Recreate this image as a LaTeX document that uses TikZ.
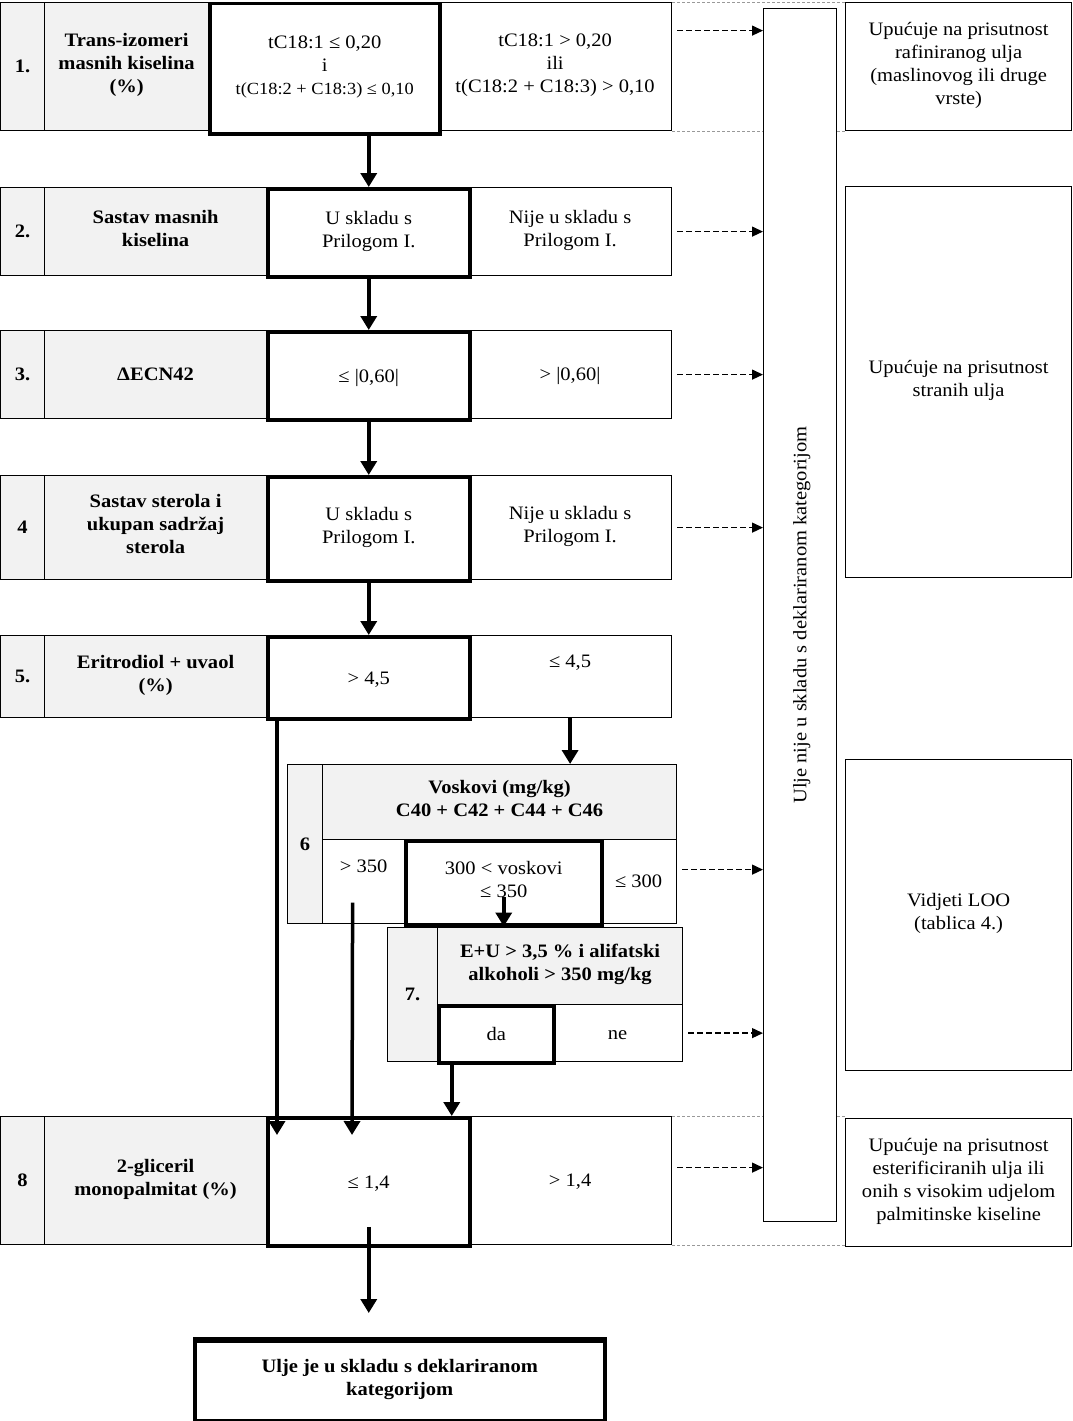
\documentclass[tikz,border=0pt]{standalone}
\usepackage{fontspec}
\setmainfont{Liberation Serif}[FakeStretch=1.08]
\usepackage{tikz}
\usetikzlibrary{arrows.meta,calc}
\definecolor{LabColor}{RGB}{242,242,242}
\begin{document}
\begin{tikzpicture}[x=1pt,y=-1pt,every node/.style={align=center,font=\fontsize{19}{23}\selectfont,
    execute at begin node=\rule{0pt}{19.5pt},execute at end node=\strut},
  cell/.style={draw,line width=1.2pt,anchor=north west,inner sep=0pt},
  lab/.style={cell,fill=LabColor,font=\fontsize{19}{23}\selectfont\bfseries},
  okbox/.style={cell,line width=3.5pt},
  flow/.style={line width=3.5pt,-{Triangle[width=16pt,length=14pt]}},
  nok/.style={line width=1.3pt,dash pattern=on 5.5pt off 3.5pt,-{Triangle[width=10pt,length=11pt]}},
  guide/.style={gray!80,line width=0.8pt,dash pattern=on 3pt off 2pt}]
\useasboundingbox (0,0) rectangle (1073,1421);
\node[lab,minimum width=44,minimum height=128] (n1) at (0,2) {1.};
\node[lab,minimum width=164,minimum height=128] (l1) at (44,2) {Trans-izomeri\\masnih kiselina\\(\%)};
\node[cell,minimum width=233,minimum height=128] (c1) at (438,2) {tC18:1 > 0,20\\ili\\t(C18:2 + C18:3) > 0,10};
\node[okbox,minimum width=230,minimum height=130] (b1) at (208,2) {tC18:1 ≤ 0,20\\i\\{\fontsize{17}{23}\selectfont t(C18:2 + C18:3) ≤ 0,10}};
\node[lab,minimum width=44,minimum height=88] (n2) at (0,187) {2.};
\node[lab,minimum width=222,minimum height=88] (l2) at (44,187) {Sastav masnih\\kiselina};
\node[cell,minimum width=203,minimum height=88] (c2) at (468,187) {Nije u skladu s\\Prilogom I.};
\node[okbox,minimum width=202,minimum height=88] (b2) at (266,187) {U skladu s\\Prilogom I.};
\node[lab,minimum width=44,minimum height=88] (n3) at (0,330) {3.};
\node[lab,minimum width=222,minimum height=88] (l3) at (44,330) {ΔECN42};
\node[cell,minimum width=203,minimum height=88] (c3) at (468,330) {> |0,60|};
\node[okbox,minimum width=202,minimum height=88] (b3) at (266,330) {≤ |0,60|};
\node[lab,minimum width=44,minimum height=104] (n4) at (0,475) {4};
\node[lab,minimum width=222,minimum height=104] (l4) at (44,475) {Sastav sterola i\\ukupan sadržaj\\sterola};
\node[cell,minimum width=203,minimum height=104] (c4) at (468,475) {Nije u skladu s\\Prilogom I.};
\node[okbox,minimum width=202,minimum height=104] (b4) at (266,475) {U skladu s\\Prilogom I.};
\node[lab,minimum width=44,minimum height=82] (n5) at (0,635) {5.};
\node[lab,minimum width=222,minimum height=82] (l5) at (44,635) {Eritrodiol + uvaol\\(\%)};
\node[cell,minimum width=203,minimum height=82] (c5) at (468,635) {≤ 4,5\\\mbox{}};
\node[okbox,minimum width=202,minimum height=82] (b5) at (266,635) {> 4,5};
\node[lab,minimum width=35,minimum height=159] (n6) at (287,764) {6};
\node[lab,minimum width=354,minimum height=75] (h6) at (322,764) {Voskovi (mg/kg)\\C40 + C42 + C44 + C46};
\node[cell,minimum width=82,minimum height=84] (a6) at (322,839) {> 350\\\mbox{}};
\node[cell,minimum width=76,minimum height=84] (c6) at (600,839) {≤ 300};
\node[okbox,minimum width=196,minimum height=84] (b6) at (404,839) {300 < voskovi\\≤ 350};
\node[lab,minimum width=50,minimum height=134] (n7) at (387,927) {7.};
\node[lab,minimum width=245,minimum height=77] (h7) at (437,927) {E+U > 3,5 \% i alifatski\\alkoholi > 350 mg/kg};
\node[cell,minimum width=130,minimum height=57] (c7) at (552,1004) {ne};
\node[okbox,minimum width=115,minimum height=57] (a7) at (437,1004) {da};
\node[lab,minimum width=44,minimum height=128] (n8) at (0,1116) {8};
\node[lab,minimum width=222,minimum height=128] (l8) at (44,1116) {2-gliceril\\monopalmitat (\%)};
\node[cell,minimum width=203,minimum height=128] (c8) at (468,1116) {> 1,4};
\node[okbox,minimum width=202,minimum height=128] (b8) at (266,1116) {≤ 1,4};
\node[cell,minimum width=226,minimum height=128] (ra) at (845,2) {Upućuje na prisutnost\\rafiniranog ulja\\(maslinovog ili druge\\vrste)};
\node[cell,minimum width=226,minimum height=391] (rb) at (845,186) {Upućuje na prisutnost\\stranih ulja};
\node[cell,minimum width=226,minimum height=311] (rc) at (845,759) {Vidjeti LOO\\(tablica 4.)};
\node[cell,minimum width=226,minimum height=128] (rd) at (845,1118) {Upućuje na prisutnost\\esterificiranih ulja ili\\onih s visokim udjelom\\palmitinske kiseline};
\node[okbox,font=\fontsize{19}{23}\selectfont\bfseries,minimum width=410,minimum height=80] (fin) at (193,1339) {Ulje je u skladu s deklariranom\\kategorijom};
\draw[line width=5pt] (fin.north west) -- (fin.north east);
\draw[guide] (c1.north east) -- (ra.north west);
\draw[guide] (c1.south east) -- (ra.south west);
\draw[guide] (c8.north east) -- (c8.north east -| rd.west);
\draw[guide] (c8.south east) -- (c8.south east -| rd.west);
\node[cell,fill=white,minimum width=73,minimum height=1213] (no) at (763,8) {};
\node[rotate=90] (notxt) at (no.center) {Ulje nije u skladu s deklariranom kategorijom};
\draw[nok] ([xshift=5pt,yshift=36pt]c1.east) -- ([yshift=36pt]c1.east -| no.west);
\draw[nok] ([xshift=5pt]c2.east) -- (c2.east -| no.west);
\draw[nok] ([xshift=5pt]c3.east) -- (c3.east -| no.west);
\draw[nok] ([xshift=5pt]c4.east) -- (c4.east -| no.west);
\draw[nok] ([xshift=5pt,yshift=12pt]c6.east) -- ([yshift=12pt]c6.east -| no.west);
\draw[nok] ([xshift=5pt]c7.east) -- (c7.east -| no.west);
\draw[nok] ([xshift=5pt,yshift=13pt]c8.east) -- ([yshift=13pt]c8.east -| no.west);
\draw[flow] (b1.south -| b2.north) -- (b2.north);
\foreach \a/\b in {b2/b3,b3/b4,b4/b5} \draw[flow] (\a.south) -- (\b.north);
\draw[flow] (c5.south) -- (c5.south |- h6.north);
\draw[flow] ([yshift=-14pt]b6.center) -- (b6.south);
\draw[flow] ([xshift=11pt]b5.south west) -- ([xshift=11pt,yshift=-19pt]b8.north west);
\draw[flow] ([xshift=-11pt,yshift=-21pt]a6.center) -- ([xshift=86pt,yshift=-19pt]b8.north west);
\draw[flow] ([xshift=-44.5pt]a7.south) -- ([xshift=-44.5pt]a7.south |- b8.north);
\coordinate (finin) at ([yshift=26pt]fin.north);
\draw[flow] ([yshift=-45pt]b8.center) -- (b8.center |- finin);
\end{tikzpicture}
\end{document}
